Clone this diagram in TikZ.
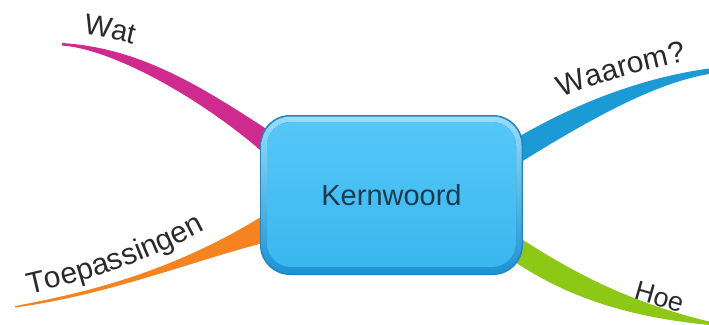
\documentclass[tikz,border=0pt]{standalone}
\usepackage{fontspec}
\setmainfont{Liberation Sans}
\usetikzlibrary{decorations.text}

\definecolor{watcol}{HTML}{CF2A8E}
\definecolor{waaromcol}{HTML}{1B9AD6}
\definecolor{toepcol}{HTML}{F5831F}
\definecolor{hoecol}{HTML}{8DC817}
\definecolor{boxedge}{HTML}{2486C0}
\definecolor{rimtop}{HTML}{9ADDF9}
\definecolor{rimbot}{HTML}{1C92D4}
\definecolor{facetop}{HTML}{55C7F7}
\definecolor{facebot}{HTML}{3AB7F0}
\definecolor{kerntext}{HTML}{1D3A4E}
\definecolor{lbl}{HTML}{2A2A2A}

\newcommand\lblfont[1]{\fontsize{#1}{#1}\selectfont\color{lbl}}

\tikzset{
  branch/.style={fill=#1, draw=none},
  kernbox/.style={
    rectangle, rounded corners=30pt,
    minimum width=263pt, minimum height=160pt,
    fill=boxedge, text=kerntext,
    font=\fontsize{29pt}{29pt}\selectfont,
    path picture={
      \fill[rounded corners=29pt, top color=rimtop, bottom color=rimbot]
        ([shift={(1.5pt,-1.5pt)}]path picture bounding box.north west)
        rectangle ([shift={(-1.5pt,1.5pt)}]path picture bounding box.south east);
      \fill[rounded corners=24pt, top color=facetop, bottom color=facebot]
        ([shift={(7pt,-7pt)}]path picture bounding box.north west)
        rectangle ([shift={(-7pt,8pt)}]path picture bounding box.south east);
    }
  },
  branchlabel/.style={decorate, decoration={text along path, text align=left,
    text={#1}}}
}

\begin{document}
\begin{tikzpicture}[x=1pt,y=-1pt]
  \useasboundingbox (0,0) rectangle (709,324);

  % tapered branches, their wide ends tucked under the central box
  \fill[branch=watcol]
    (62,43) .. controls (140,48) and (200,85) .. (280,138)
    -- (280,168) .. controls (220,110) and (120,50) .. (62,45.5) -- cycle;
  \fill[branch=waaromcol]
    (505,145) .. controls (570,105) and (640,78) .. (709,68.5)
    -- (709,74) .. controls (650,84) and (580,125) .. (505,172) -- cycle;
  \fill[branch=toepcol]
    (15,306) .. controls (90,292) and (180,270) .. (275,208)
    -- (275,240) .. controls (200,258) and (110,295) .. (15,307.5) -- cycle;
  \fill[branch=hoecol]
    (505,228) .. controls (560,265) and (620,300) .. (709,321.5)
    -- (709,325) .. controls (640,318) and (570,302) .. (505,255) -- cycle;

  % central topic
  \node[kernbox] (kern) at (391.5,195) {\raisebox{-2pt}{Kernwoord}};

  % branch labels set along their curved baselines
  \path[branchlabel={|\lblfont{29pt}|Wat}]
    (83,34) .. controls (105,37) and (130,43) .. (170,53);
  \path[branchlabel={|\lblfont{30pt}|Waarom?}]
    (562,98) .. controls (597,83) and (642,69) .. (709,57);
  \path[branchlabel={|\lblfont{30pt}|Toepassingen}]
    (29,294) .. controls (82,282) and (152,263) .. (230,216);
  \path[branchlabel={|\lblfont{27pt}|Hoe}]
    (633,299) .. controls (655,305) and (680,313) .. (705,320);
\end{tikzpicture}
\end{document}
